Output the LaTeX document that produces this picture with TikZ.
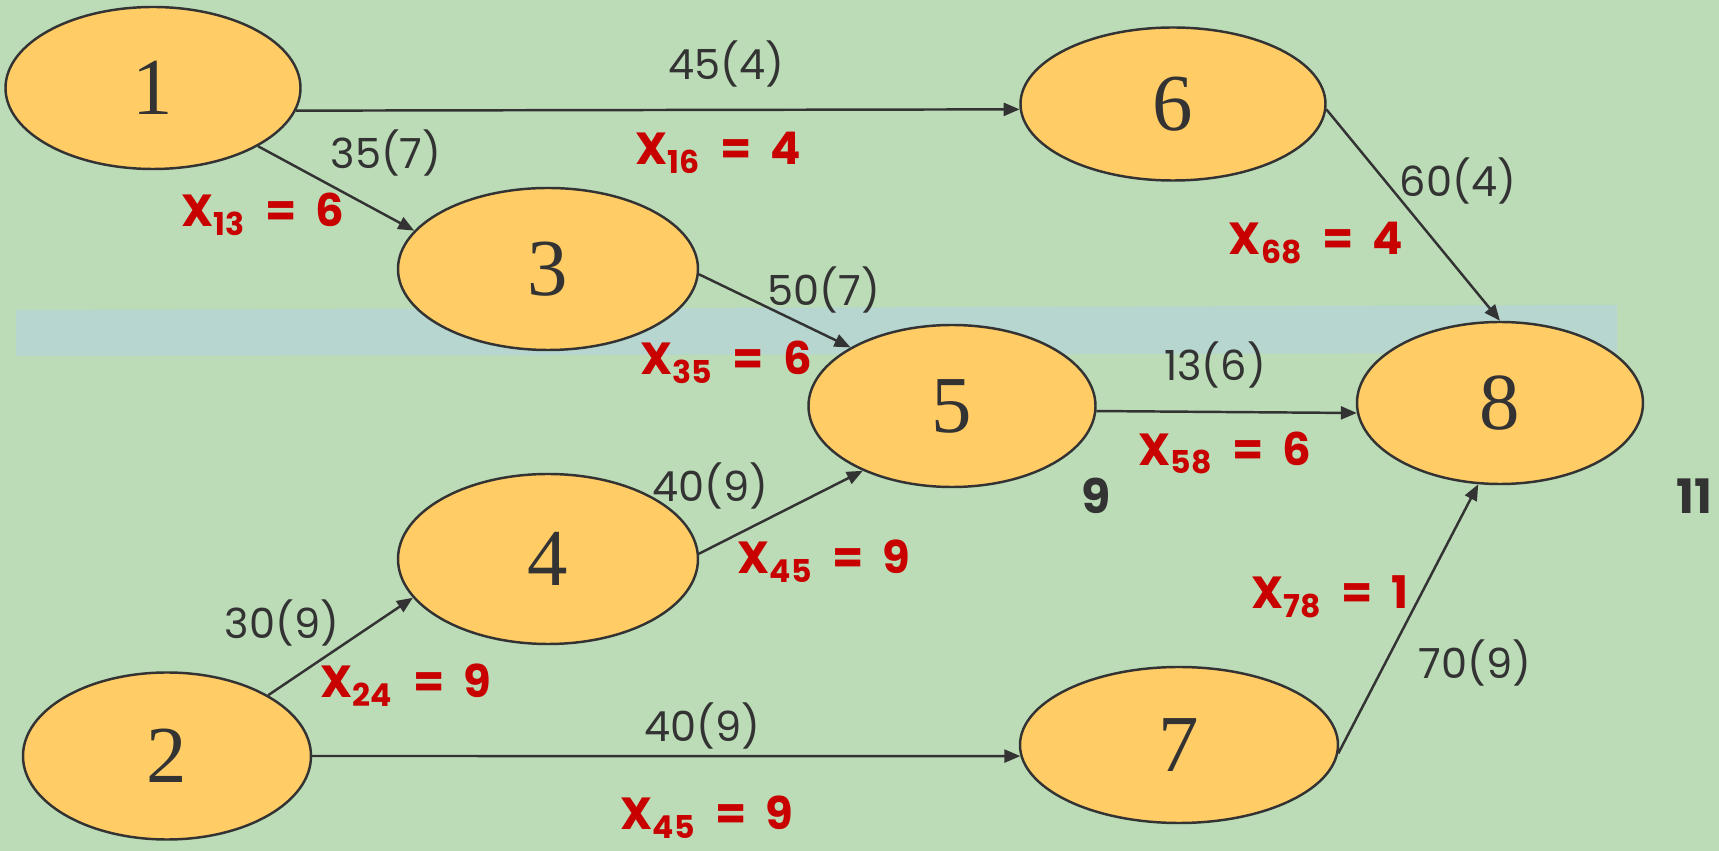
\documentclass[tikz,border=0pt]{standalone}
\usepackage{fontspec}
\setmainfont{Liberation Serif}
\newfontfamily\capfont{Poppins}
\usetikzlibrary{shapes.geometric, arrows.meta}

\definecolor{bggreen}{RGB}{188,220,183}
\definecolor{bandblue}{RGB}{178,210,224}
\definecolor{nodefill}{RGB}{255,204,102}
\definecolor{flowred}{RGB}{200,0,0}
\definecolor{inkgray}{RGB}{51,51,51}

\newcommand{\flowval}[2]{X\textsubscript{#1}\ \ =\ \ #2}

\begin{document}
\begin{tikzpicture}[
    event/.style={ellipse, draw=inkgray, fill=nodefill, line width=0.7pt,
        minimum width=2.95cm, minimum height=1.62cm, inner sep=0pt,
        font=\fontsize{23}{24}\selectfont, text=inkgray},
    arc/.style={draw=inkgray, line width=0.7pt, -{Triangle[length=1.6mm, width=1.3mm]}},
    cost/.style={font=\capfont\fontsize{11.8}{13}\selectfont, text=inkgray},
    flow/.style={font=\capfont\bfseries\fontsize{12.8}{14}\selectfont, text=flowred},
    tval/.style={font=\capfont\bfseries\fontsize{13.5}{15}\selectfont, text=inkgray}
]

    % Background
    \useasboundingbox (0,0) rectangle (17.19,8.51);
    \fill[bggreen] (0,0) rectangle (17.19,8.51);
    \fill[bandblue, opacity=0.6] (0.16,5.41) -- (16.17,5.46) -- (16.17,4.98) -- (0.16,4.95) -- cycle;

    % Nodes
    \node[event] (n1) at (1.53,7.63) {1};
    \node[event, minimum width=3.05cm, minimum height=1.53cm] (n6) at (11.73,7.47) {6};
    \node[event, minimum width=3.0cm] (n3) at (5.48,5.82) {3};
    \node[event, minimum width=2.87cm] (n5) at (9.52,4.45) {5};
    \node[event, minimum width=2.86cm] (n8) at (15.00,4.48) {8};
    \node[event, minimum width=3.0cm, minimum height=1.7cm] (n4) at (5.48,2.92) {4};
    \node[event, minimum width=2.88cm, minimum height=1.67cm] (n2) at (1.67,0.95) {2};
    \node[event, minimum width=3.18cm, minimum height=1.56cm] (n7) at (11.79,1.06) {7};

    % Edges
    \draw[arc] (n1.-9) -- (n6.182);
    \draw[arc] (n1.-29) -- (n3.164);
    \draw[arc] (n3.-2) -- (n5.150);
    \draw[arc] (n6.-2) -- (n8.north);
    \draw[arc] (n5.-2) -- (n8.184);
    \draw[arc] (n4.2) -- (n5.216);
    \draw[arc] (n2.31) -- (n4.196);
    \draw[arc] (n2.east) -- (n7.184);
    \draw[arc] (n7.-3) -- (n8.255);

    % Costs and flows
    \node[cost] (c16) at (7.26,7.87) {45(4)};
    \node[flow] (f16) at (7.18,6.98) {\flowval{16}{4}};
    \node[cost] (c13) at (3.86,6.98) {35(7)};
    \node[flow] (f13) at (2.63,6.37) {\flowval{13}{6}};
    \node[cost] (c68) at (14.58,6.70) {60(4)};
    \node[flow] (f68) at (13.16,6.08) {\flowval{68}{4}};
    \node[cost] (c35) at (8.24,5.61) {50(7)};
    \node[flow] (f35) at (7.26,4.89) {\flowval{35}{6}};
    \node[cost] (c58) at (12.15,4.86) {13(6)};
    \node[flow] (f58) at (12.25,3.98) {\flowval{58}{6}};
    \node[cost] (c45) at (7.10,3.65) {40(9)};
    \node[flow] (f45) at (8.24,2.90) {\flowval{45}{9}};
    \node[cost] (c24) at (2.82,2.28) {30(9)};
    \node[flow] (f24) at (4.06,1.66) {\flowval{24}{9}};
    \node[cost] (c27) at (7.02,1.25) {40(9)};
    \node[flow] (f27) at (7.07,0.34) {\flowval{45}{9}};
    \node[flow] (f78) at (13.30,2.54) {\flowval{78}{1}};
    \node[cost] (c78) at (14.75,1.88) {70(9)};

    % Times
    \node[tval] (t5) at (10.96,3.55) {9};
    \node[tval] (t8) at (16.94,3.55) {11};

\end{tikzpicture}
\end{document}
